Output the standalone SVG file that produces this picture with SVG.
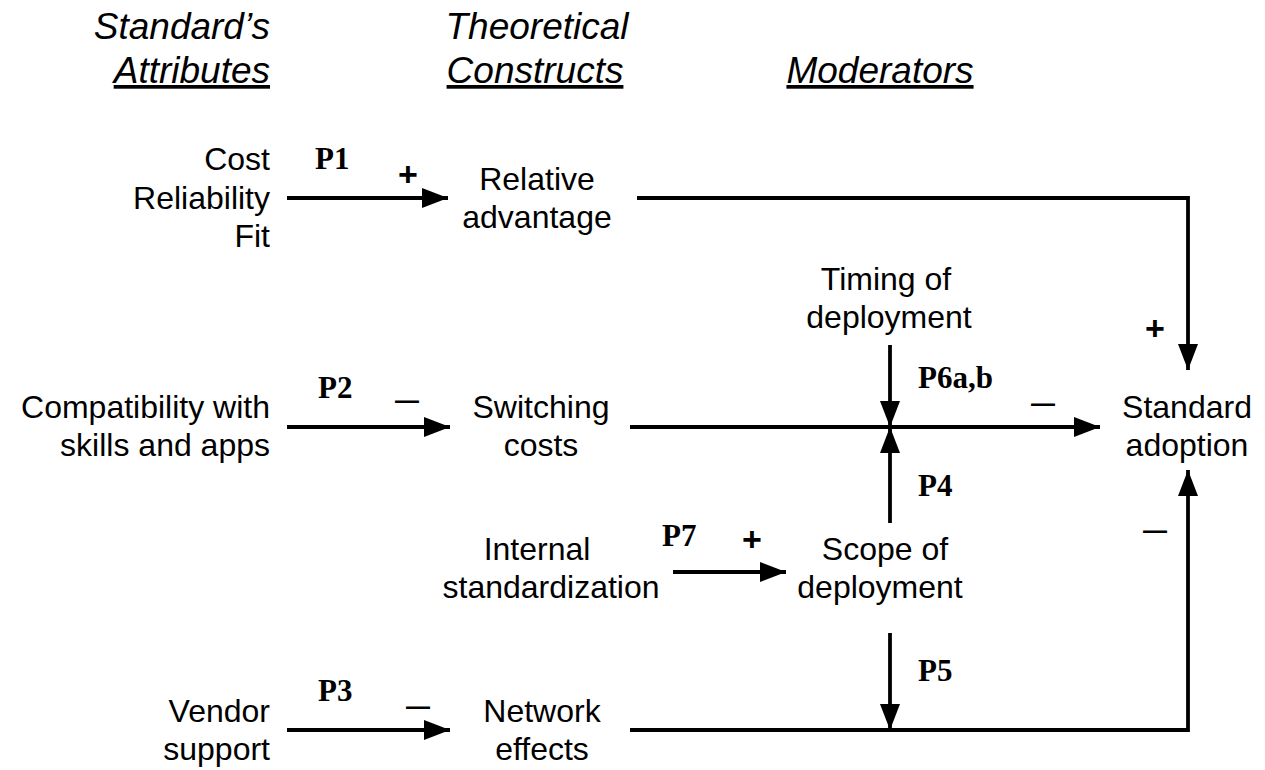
<svg xmlns="http://www.w3.org/2000/svg" width="1265" height="770" viewBox="0 0 1265 770">
<style>
.t{font-family:"Liberation Sans",Arial,sans-serif;font-size:32px;fill:#000}
.h{font-family:"Liberation Sans",Arial,sans-serif;font-size:37px;font-style:italic;fill:#000}
.u{text-decoration:underline}
.p{font-family:"Liberation Serif","Times New Roman",serif;font-size:31px;font-weight:bold;fill:#000}
.s{font-family:"Liberation Sans",Arial,sans-serif;font-size:34px;font-weight:bold;fill:#000;text-anchor:middle}
.d{font-family:"Liberation Sans",Arial,sans-serif;font-size:24px;font-weight:bold;fill:#000;text-anchor:middle}
.c{text-anchor:middle}
.r{text-anchor:end}
.ln{fill:none;stroke:#000;stroke-width:3.8}
</style>
<defs>
<marker id="ah" markerUnits="userSpaceOnUse" markerWidth="26" markerHeight="20" refX="26" refY="10" orient="auto" viewBox="0 0 26 20">
<path d="M0,0 L26,10 L0,20 z" fill="#000"/>
</marker>
</defs>
<rect width="1265" height="770" fill="#fff"/>
<g id="headers">
<text class="h r" x="270" y="39">Standard’s</text>
<text class="h r u" x="270" y="83">Attributes</text>
<text class="h c" x="537" y="39">Theoretical</text>
<text class="h c u" x="535" y="83">Constructs</text>
<text class="h c u" x="880" y="83">Moderators</text>
</g>
<g id="attr1"><text class="t r" x="270" y="170">Cost</text><text class="t r" x="270" y="209">Reliability</text><text class="t r" x="270" y="247">Fit</text></g>
<g id="attr2"><text class="t r" x="270" y="418">Compatibility with</text><text class="t r" x="270" y="456">skills and apps</text></g>
<g id="attr3"><text class="t r" x="270" y="722">Vendor</text><text class="t r" x="270" y="760">support</text></g>
<g id="relative"><text class="t c" x="537" y="190">Relative</text><text class="t c" x="537" y="228">advantage</text></g>
<g id="switching"><text class="t c" x="541" y="418">Switching</text><text class="t c" x="541" y="456">costs</text></g>
<g id="internal"><text class="t c" x="537" y="560">Internal</text><text class="t c" x="551" y="598">standardization</text></g>
<g id="network"><text class="t c" x="542" y="722">Network</text><text class="t c" x="542" y="760">effects</text></g>
<g id="timing"><text class="t c" x="886" y="290">Timing of</text><text class="t c" x="889" y="328">deployment</text></g>
<g id="scope"><text class="t c" x="885" y="560">Scope of</text><text class="t c" x="880" y="598">deployment</text></g>
<g id="adoption"><text class="t c" x="1187" y="418">Standard</text><text class="t c" x="1187" y="456">adoption</text></g>
<g id="connectors">
<path class="ln" d="M287,198 H448" marker-end="url(#ah)"/>
<path class="ln" d="M637,198 H1188 V370" marker-end="url(#ah)"/>
<path class="ln" d="M287,427 H450" marker-end="url(#ah)"/>
<path class="ln" d="M630,427 H1100" marker-end="url(#ah)"/>
<path class="ln" d="M890,345 V427" marker-end="url(#ah)"/>
<path class="ln" d="M890,523 V427" marker-end="url(#ah)"/>
<path class="ln" d="M673,572 H786" marker-end="url(#ah)"/>
<path class="ln" d="M890,633 V730" marker-end="url(#ah)"/>
<path class="ln" d="M287,730 H450" marker-end="url(#ah)"/>
<path class="ln" d="M630,730 H1188 V470" marker-end="url(#ah)"/>
<text class="p" x="315" y="169">P1</text>
<text class="p" x="318" y="398">P2</text>
<text class="p" x="318" y="701">P3</text>
<text class="p" x="662" y="546">P7</text>
<text class="p" x="918" y="388">P6a,b</text>
<text class="p" x="918" y="496">P4</text>
<text class="p" x="918" y="681">P5</text>
<text class="s" x="408" y="186">+</text>
<text class="s" x="752" y="551">+</text>
<text class="s" x="1155" y="340">+</text>
<text class="d" x="407" y="408">—</text>
<text class="d" x="418" y="714">—</text>
<text class="d" x="1043" y="411">—</text>
<text class="d" x="1155" y="538">—</text>
</g>
</svg>
